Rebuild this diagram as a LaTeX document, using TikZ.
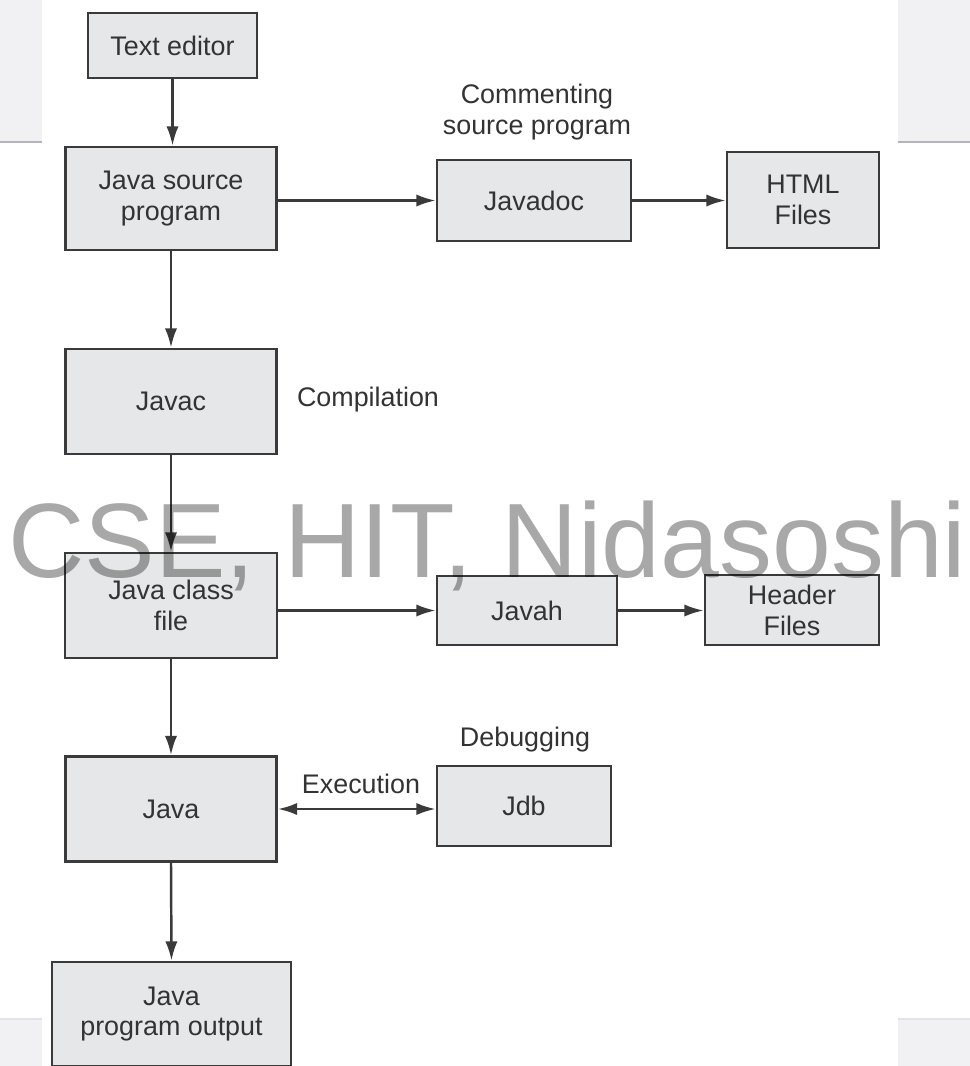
\documentclass[tikz,border=0pt]{standalone}
\usepackage{fontspec}
\setmainfont{Liberation Sans}
\usetikzlibrary{arrows.meta}
\definecolor{boxfill}{HTML}{E6E7E8}
\definecolor{boxline}{HTML}{3A3A3A}
\definecolor{inktext}{HTML}{333333}
\definecolor{slidegray}{HTML}{F1F1F3}
\definecolor{slideedge}{HTML}{B4B2BA}
\definecolor{slidetop}{HTML}{E6E0EC}
\tikzset{
    block/.style={rectangle,draw=boxline,fill=boxfill,line width=1.6pt,inner sep=0pt,align=center,text=inktext,font=\fontsize{15.3}{17.6}\selectfont},
    note/.style={inner sep=0pt,align=center,text=inktext,font=\fontsize{15.3}{17.6}\selectfont},
    flow/.style={draw=boxline,line width=1.4pt,-{Latex[length=11pt,width=7pt]}},
    twoway/.style={flow,{Latex[length=11pt,width=7pt]}-{Latex[length=11pt,width=7pt]}},
}
\begin{document}
\begin{tikzpicture}[x=0.02cm,y=-0.02cm]
    \useasboundingbox (0,0) rectangle (970,1066);
    \clip (0,0) rectangle (970,1066);
    \fill[slidegray] (0,0) rectangle (42,142) (898,0) rectangle (970,142);
    \fill[slidegray] (0,1019) rectangle (42,1066) (898,1019) rectangle (970,1066);
    \draw[slideedge,line width=1.5pt] (0,142) -- (42,142) (898,142) -- (970,142);
    \draw[slidetop,line width=1.5pt] (0,1019) -- (42,1019) (898,1019) -- (970,1019);

    \node[block,minimum width=3.38cm,minimum height=1.3cm] (editor) at (172.5,45.5) {Text editor};
    \node[block,minimum width=4.22cm,minimum height=2.06cm] (src) at (171,198.5) {Java source\\program};
    \node[block,minimum width=3.88cm,minimum height=1.62cm] (jdoc) at (534,200.5) {Javadoc};
    \node[block,minimum width=3.04cm,minimum height=1.92cm] (html) at (803,200) {HTML\\Files};
    \node[block,minimum width=4.22cm,minimum height=2.1cm] (javac) at (171,401.5) {Javac};
    \node[block,minimum width=4.24cm,minimum height=2.1cm] (cls) at (171,605.5) {Java class\\file};
    \node[block,minimum width=3.6cm,minimum height=1.38cm] (javah) at (527,610.5) {Javah};
    \node[block,minimum width=3.48cm,minimum height=1.4cm] (header) at (792,610) {Header\\Files};
    \node[block,minimum width=4.22cm,minimum height=2.1cm] (java) at (171,809) {Java};
    \node[block,minimum width=3.48cm,minimum height=1.6cm] (jdb) at (524,806) {Jdb};
    \node[block,minimum width=4.78cm,minimum height=2.08cm] (out) at (171.5,1014) {Java\\program output};

    \node[note] (comment) at (537,112) {Commenting\\source program};
    \node[note] (compile) at (368,400) {Compilation};
    \node[note] (exec) at (361,784) {Execution};
    \node[note] (debug) at (525,740) {Debugging};

    \draw[flow] (editor.south) -- (editor.south |- src.north);
    \draw[flow] (src.south) -- (javac.north);
    \draw[flow] (javac.south) -- (cls.north);
    \draw[flow] (cls.south) -- (java.north);
    \draw[flow] (java.south) -- (out.north);
    \draw[flow] (src.east |- jdoc.west) -- (jdoc.west);
    \draw[flow] (jdoc.east) -- (jdoc.east -| html.west);
    \draw[flow] (cls.east |- javah.west) -- (javah.west);
    \draw[flow] (javah.east) -- (javah.east -| header.west);
    \draw[twoway] (java.east) -- (java.east -| jdb.west);

    \node[anchor=base west,inner sep=0pt,text=black,text opacity=0.34,font=\fontsize{60.2}{60}\selectfont] (mark) at (8,577) {CSE, HIT, Nidasoshi};
\end{tikzpicture}
\end{document}
